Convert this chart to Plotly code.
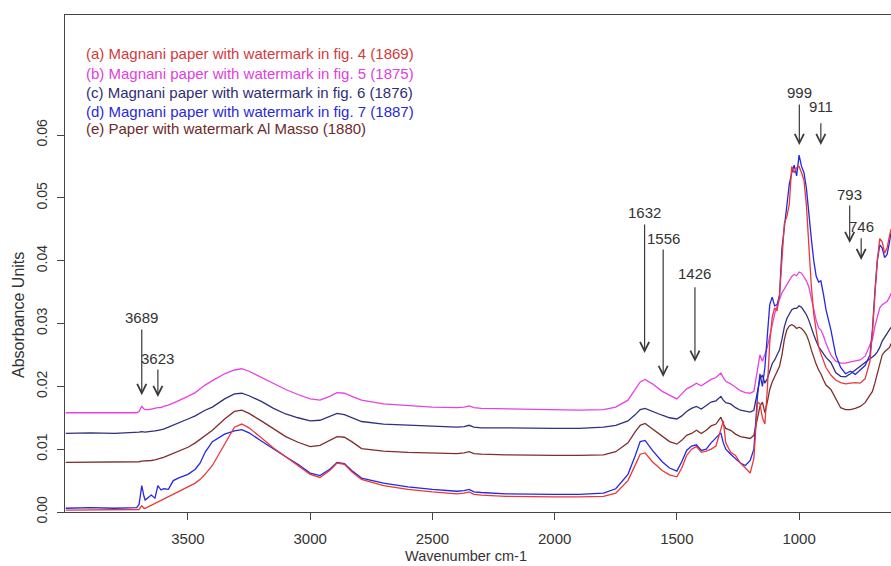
import plotly.graph_objects as go

# ---------------- data ----------------
wavenumber = [
    4000, 3900, 3800, 3740, 3710, 3700, 3689, 3680, 3675, 3660, 3650, 3635, 3623, 3610, 3600, 3580, 3560, 3540,
    3500, 3470, 3450, 3430, 3400, 3350, 3310, 3280, 3250, 3200, 3150, 3100, 3050, 3000, 2960, 2920, 2890, 2860, 2830, 2790,
    2700, 2600, 2500, 2400, 2370, 2350, 2330, 2300, 2200, 2100, 2000, 1900, 1800, 1750,
    1700, 1670, 1650, 1630, 1600, 1560, 1530, 1500, 1480, 1460, 1440, 1420, 1400, 1380, 1360, 1340, 1320, 1310, 1300, 1280, 1260, 1240, 1220, 1200, 1185,
    1170, 1160, 1150, 1140, 1130, 1120, 1110, 1100, 1090, 1080, 1070, 1060, 1050, 1040, 1030, 1020, 1010, 1000, 990, 980, 970, 960, 950, 940, 930, 920, 911,
    900, 890, 870, 850, 830, 810, 790, 770, 750, 730, 710, 700, 690, 680, 670, 660, 650, 640, 630, 624,
]

absorb_a = [
    0.0003, 0.0003, 0.0003, 0.0003, 0.0003, 0.0004, 0.0010, 0.0006, 0.0006, 0.0009, 0.0011, 0.0013, 0.0016, 0.0018, 0.0020, 0.0024, 0.0028, 0.0032,
    0.0040, 0.0046, 0.0052, 0.0060, 0.0074, 0.0108, 0.0135, 0.0140, 0.0134, 0.0118, 0.0102, 0.0088, 0.0074, 0.0060, 0.0055, 0.0066, 0.0078, 0.0076, 0.0064, 0.0052,
    0.0042, 0.0036, 0.0032, 0.0029, 0.0030, 0.0032, 0.0028, 0.0027, 0.0025, 0.0024, 0.0024, 0.0024, 0.0025, 0.0030,
    0.0050, 0.0075, 0.0092, 0.0094, 0.0080, 0.0066, 0.0059, 0.0056, 0.0070, 0.0090, 0.0100, 0.0104, 0.0095, 0.0097, 0.0100, 0.0105, 0.0130, 0.0145, 0.0110, 0.0095, 0.0090, 0.0078, 0.0070, 0.0062, 0.0085,
    0.0175, 0.0172, 0.0150, 0.0140, 0.0195, 0.0270, 0.0310, 0.0325, 0.0320, 0.0345, 0.0400, 0.0460, 0.0470, 0.0490, 0.0550, 0.0540, 0.0548, 0.0550, 0.0540, 0.0528, 0.0488, 0.0420, 0.0360, 0.0315, 0.0285, 0.0263, 0.0252,
    0.0240, 0.0230, 0.0218, 0.0210, 0.0206, 0.0204, 0.0205, 0.0206, 0.0205, 0.0212, 0.0240, 0.0285, 0.0345, 0.0400, 0.0435, 0.0430, 0.0412, 0.0420, 0.0440, 0.0450,
]

absorb_b = [
    0.0158, 0.0158, 0.0157, 0.0158, 0.0158, 0.0160, 0.0168, 0.0164, 0.0163, 0.0163, 0.0164, 0.0165, 0.0166, 0.0166, 0.0168, 0.0170, 0.0174, 0.0177,
    0.0184, 0.0190, 0.0196, 0.0202, 0.0209, 0.0220, 0.0226, 0.0228, 0.0224, 0.0214, 0.0204, 0.0195, 0.0187, 0.0180, 0.0178, 0.0184, 0.0190, 0.0189, 0.0184, 0.0178,
    0.0172, 0.0169, 0.0167, 0.0166, 0.0167, 0.0169, 0.0166, 0.0165, 0.0164, 0.0163, 0.0162, 0.0162, 0.0163, 0.0167,
    0.0178, 0.0195, 0.0207, 0.0211, 0.0204, 0.0192, 0.0186, 0.0180, 0.0188, 0.0196, 0.0200, 0.0205, 0.0201, 0.0206, 0.0211, 0.0214, 0.0221, 0.0214, 0.0208, 0.0204, 0.0198, 0.0193, 0.0190, 0.0189, 0.0192,
    0.0225, 0.0250, 0.0240, 0.0250, 0.0262, 0.0280, 0.0298, 0.0315, 0.0328, 0.0338, 0.0349, 0.0355, 0.0362, 0.0368, 0.0375, 0.0378, 0.0376, 0.0382, 0.0380, 0.0374, 0.0368, 0.0358, 0.0340, 0.0320, 0.0305, 0.0293, 0.0290,
    0.0280, 0.0268, 0.0250, 0.0240, 0.0237, 0.0237, 0.0239, 0.0240, 0.0242, 0.0248, 0.0265, 0.0275, 0.0295, 0.0310, 0.0325, 0.0330, 0.0333, 0.0335, 0.0342, 0.0348,
]

absorb_c = [
    0.0125, 0.0126, 0.0125, 0.0126, 0.0126, 0.0127, 0.0128, 0.0127, 0.0127, 0.0128, 0.0128, 0.0129, 0.0130, 0.0131, 0.0132, 0.0135, 0.0138, 0.0142,
    0.0148, 0.0153, 0.0158, 0.0162, 0.0167, 0.0180, 0.0188, 0.0189, 0.0185, 0.0176, 0.0165, 0.0156, 0.0150, 0.0145, 0.0146, 0.0152, 0.0157, 0.0155, 0.0150, 0.0144,
    0.0140, 0.0138, 0.0136, 0.0135, 0.0136, 0.0138, 0.0135, 0.0134, 0.0134, 0.0133, 0.0133, 0.0133, 0.0135, 0.0138,
    0.0145, 0.0155, 0.0163, 0.0165, 0.0160, 0.0154, 0.0150, 0.0148, 0.0153, 0.0160, 0.0165, 0.0168, 0.0164, 0.0170, 0.0175, 0.0177, 0.0184, 0.0178, 0.0174, 0.0172, 0.0166, 0.0162, 0.0160, 0.0159, 0.0162,
    0.0190, 0.0212, 0.0218, 0.0205, 0.0212, 0.0225, 0.0236, 0.0242, 0.0250, 0.0258, 0.0275, 0.0295, 0.0308, 0.0316, 0.0322, 0.0324, 0.0324, 0.0328, 0.0326, 0.0320, 0.0314, 0.0305, 0.0292, 0.0282, 0.0272, 0.0263, 0.0258,
    0.0252, 0.0246, 0.0238, 0.0222, 0.0216, 0.0215, 0.0220, 0.0226, 0.0231, 0.0238, 0.0244, 0.0247, 0.0250, 0.0255, 0.0262, 0.0272, 0.0278, 0.0283, 0.0290, 0.0294,
]

absorb_d = [
    0.0006, 0.0007, 0.0006, 0.0006, 0.0007, 0.0012, 0.0042, 0.0025, 0.0019, 0.0024, 0.0027, 0.0022, 0.0042, 0.0035, 0.0037, 0.0036, 0.0050, 0.0054,
    0.0060, 0.0068, 0.0078, 0.0095, 0.0112, 0.0124, 0.0129, 0.0131, 0.0126, 0.0113, 0.0100, 0.0088, 0.0076, 0.0062, 0.0058, 0.0068, 0.0079, 0.0077, 0.0066, 0.0054,
    0.0046, 0.0040, 0.0036, 0.0033, 0.0034, 0.0036, 0.0032, 0.0031, 0.0029, 0.0028, 0.0028, 0.0028, 0.0030, 0.0037,
    0.0060, 0.0090, 0.0112, 0.0114, 0.0098, 0.0080, 0.0070, 0.0065, 0.0080, 0.0098, 0.0105, 0.0107, 0.0098, 0.0100, 0.0110, 0.0118, 0.0126, 0.0110, 0.0100, 0.0092, 0.0085, 0.0078, 0.0074, 0.0082, 0.0100,
    0.0185, 0.0220, 0.0200, 0.0230, 0.0285, 0.0330, 0.0342, 0.0328, 0.0330, 0.0345, 0.0420, 0.0455, 0.0490, 0.0522, 0.0540, 0.0552, 0.0535, 0.0568, 0.0550, 0.0540, 0.0515, 0.0470, 0.0435, 0.0400, 0.0375, 0.0366, 0.0368,
    0.0346, 0.0322, 0.0290, 0.0250, 0.0230, 0.0220, 0.0224, 0.0219, 0.0226, 0.0233, 0.0250, 0.0290, 0.0350, 0.0400, 0.0425, 0.0420, 0.0405, 0.0410, 0.0430, 0.0445,
]

absorb_e = [
    0.0079, 0.0079, 0.0080, 0.0080, 0.0080, 0.0080, 0.0081, 0.0081, 0.0081, 0.0082, 0.0082, 0.0083, 0.0084, 0.0086, 0.0087, 0.0090, 0.0093, 0.0097,
    0.0103, 0.0110, 0.0116, 0.0122, 0.0130, 0.0148, 0.0160, 0.0162, 0.0157, 0.0145, 0.0132, 0.0120, 0.0111, 0.0104, 0.0106, 0.0114, 0.0120, 0.0119, 0.0112, 0.0101,
    0.0097, 0.0095, 0.0094, 0.0093, 0.0094, 0.0096, 0.0093, 0.0092, 0.0091, 0.0090, 0.0090, 0.0090, 0.0091, 0.0096,
    0.0110, 0.0128, 0.0138, 0.0141, 0.0132, 0.0120, 0.0112, 0.0108, 0.0114, 0.0122, 0.0125, 0.0130, 0.0125, 0.0130, 0.0137, 0.0140, 0.0151, 0.0140, 0.0133, 0.0130, 0.0124, 0.0120, 0.0118, 0.0117, 0.0122,
    0.0150, 0.0168, 0.0175, 0.0158, 0.0175, 0.0195, 0.0207, 0.0215, 0.0222, 0.0232, 0.0250, 0.0275, 0.0290, 0.0296, 0.0298, 0.0296, 0.0292, 0.0294, 0.0292, 0.0288, 0.0282, 0.0272, 0.0258, 0.0245, 0.0235, 0.0226, 0.0220,
    0.0210, 0.0202, 0.0195, 0.0180, 0.0166, 0.0163, 0.0163, 0.0165, 0.0168, 0.0174, 0.0185, 0.0192, 0.0205, 0.0220, 0.0235, 0.0250, 0.0255, 0.0258, 0.0262, 0.0268,
]

series_names = [
    "(a) Magnani paper with watermark in fig. 4 (1869)",
    "(b) Magnani paper with watermark in fig. 5 (1875)",
    "(c) Magnani paper with watermark in fig. 6 (1876)",
    "(d) Magnani paper with watermark in fig. 7 (1887)",
    "(e) Paper with watermark Al Masso (1880)",
]

x_ticks = [3500, 3000, 2500, 2000, 1500, 1000]
y_ticks = [0.00, 0.01, 0.02, 0.03, 0.04, 0.05, 0.06]
y_tick_text = ["0.00", "0.01", "0.02", "0.03", "0.04", "0.05", "0.06"]

peak_labels = ["3689", "3623", "1632", "1556", "1426", "999", "911", "793", "746"]
peak_wn = [3689, 3623, 1632, 1556, 1426, 999, 911, 793, 746]

# ---------------- styling / layout ----------------
line_colors = ["#E8383A", "#E642E0", "#30307E", "#2626E4", "#7E2E2E"]
text_colors = ["#D23A3E", "#E040DC", "#2E2E74", "#2A2AD8", "#6E2A2A"]
series = [absorb_a, absorb_b, absorb_c, absorb_d, absorb_e]

# arrow geometry (absorbance units) for each peak label: label y, arrow start, arrow tip
label_y = [0.0309, 0.0244, 0.0476, 0.0435, 0.0379, 0.0667, 0.0645, 0.0505, 0.0454]
arrow_top = [0.0293, 0.0229, 0.0460, 0.0420, 0.0360, 0.0651, 0.0621, 0.0490, 0.0438]
arrow_tip = [0.0186, 0.0183, 0.0253, 0.0215, 0.0239, 0.0584, 0.0584, 0.0428, 0.0401]

FONT = "Liberation Sans, Arial, sans-serif"

fig = go.Figure()
draw_order = [4, 2, 1, 3, 0]
for i in draw_order:
    fig.add_trace(go.Scatter(
        x=wavenumber, y=series[i], mode="lines", name=series_names[i],
        line=dict(color=line_colors[i], width=1.3), showlegend=False,
        hoverinfo="skip",
    ))

annotations = []
# legend text lines
legend_y_px = [54, 73, 92, 111, 129]
for i, name in enumerate(series_names):
    annotations.append(dict(
        xref="paper", yref="paper", x=(84 - 65) / 826, y=(512 - legend_y_px[i]) / 497,
        text=name, showarrow=False, xanchor="left", yanchor="middle",
        font=dict(family=FONT, size=15, color=text_colors[i]),
    ))

# peak arrows and labels
for lab, wn, ly, at, tip in zip(peak_labels, peak_wn, label_y, arrow_top, arrow_tip):
    annotations.append(dict(
        x=wn, y=tip, ax=wn, ay=at, xref="x", yref="y", axref="x", ayref="y",
        text="", showarrow=True, arrowhead=5, arrowsize=1.5, arrowwidth=1.2,
        arrowcolor="#3a3a3a", standoff=0, startstandoff=0,
    ))
    annotations.append(dict(
        x=wn, y=ly, xref="x", yref="y", text=lab, showarrow=False,
        xanchor="center", yanchor="middle",
        font=dict(family=FONT, size=15, color="#333333"),
    ))

# axis titles
annotations.append(dict(
    xref="paper", yref="paper", x=(466 - 65) / 826, y=(512 - 556) / 497,
    text="Wavenumber cm-1", showarrow=False, xanchor="center", yanchor="middle",
    font=dict(family=FONT, size=14.5, color="#333333"),
))
annotations.append(dict(
    xref="paper", yref="paper", x=(18 - 65) / 826, y=(512 - 315) / 497,
    text="Absorbance Units", showarrow=False, xanchor="center", yanchor="middle",
    textangle=-90, font=dict(family=FONT, size=16, color="#333333"),
))

fig.update_layout(
    width=891, height=566,
    margin=dict(l=65, r=0, t=15, b=54),
    paper_bgcolor="white", plot_bgcolor="white",
    annotations=annotations,
    xaxis=dict(
        range=[4003, 624], tickvals=x_ticks, ticks="outside", ticklen=7,
        tickwidth=1, tickcolor="#444444", showline=True, linecolor="#444444",
        linewidth=1.2, mirror=True, showgrid=False, zeroline=False,
        tickfont=dict(family=FONT, size=15, color="#333333"),
        ticklabelstandoff=6,
    ),
    yaxis=dict(
        range=[0, 0.0791], tickvals=y_ticks, ticktext=y_tick_text,
        ticks="outside", ticklen=7, tickwidth=1, tickcolor="#444444",
        showline=True, linecolor="#444444", linewidth=1.2, mirror=False,
        showgrid=False, zeroline=False, tickangle=-90,
        tickfont=dict(family=FONT, size=14, color="#333333"),
        ticklabelstandoff=4,
    ),
)

fig.write_html(
    "out.html",
    config={"displayModeBar": False, "staticPlot": True},
    post_script="document.body.style.margin='0';document.body.style.overflow='hidden';",
)
